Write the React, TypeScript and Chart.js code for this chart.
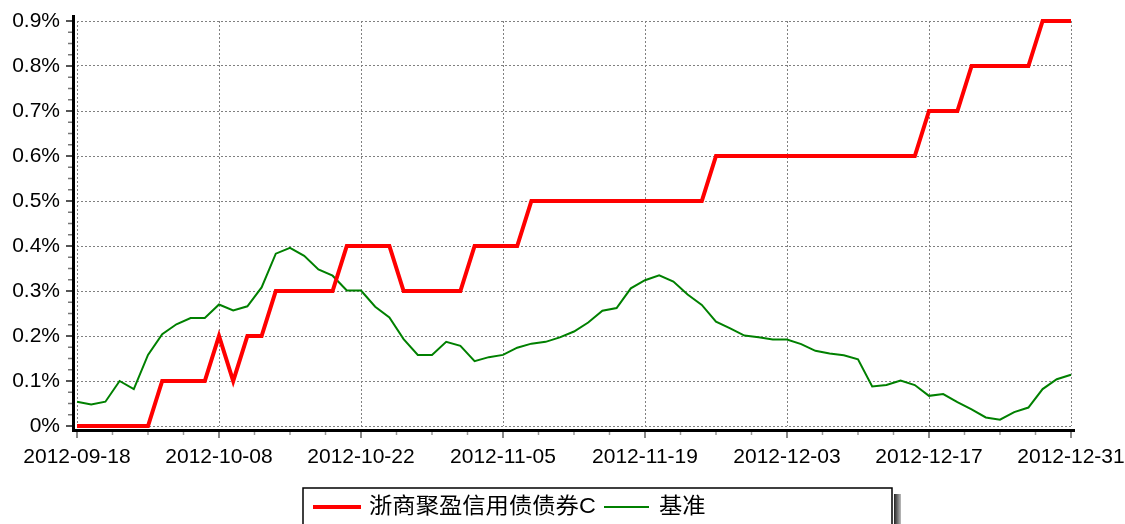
import React, { useEffect, useRef } from "react";
import { Chart, registerables } from "chart.js";

Chart.register(...registerables);

const dates: string[] = [
  "2012-09-18", "2012-09-19", "2012-09-20", "2012-09-21", "2012-09-24", "2012-09-25", "2012-09-26", "2012-09-27", "2012-09-28", "2012-09-29",
  "2012-10-08", "2012-10-09", "2012-10-10", "2012-10-11", "2012-10-12", "2012-10-15", "2012-10-16", "2012-10-17", "2012-10-18", "2012-10-19",
  "2012-10-22", "2012-10-23", "2012-10-24", "2012-10-25", "2012-10-26", "2012-10-29", "2012-10-30", "2012-10-31", "2012-11-01", "2012-11-02",
  "2012-11-05", "2012-11-06", "2012-11-07", "2012-11-08", "2012-11-09", "2012-11-12", "2012-11-13", "2012-11-14", "2012-11-15", "2012-11-16",
  "2012-11-19", "2012-11-20", "2012-11-21", "2012-11-22", "2012-11-23", "2012-11-26", "2012-11-27", "2012-11-28", "2012-11-29", "2012-11-30",
  "2012-12-03", "2012-12-04", "2012-12-05", "2012-12-06", "2012-12-07", "2012-12-10", "2012-12-11", "2012-12-12", "2012-12-13", "2012-12-14",
  "2012-12-17", "2012-12-18", "2012-12-19", "2012-12-20", "2012-12-21", "2012-12-24", "2012-12-25", "2012-12-26", "2012-12-27", "2012-12-28",
  "2012-12-31",
];

// values in percent
const fundValues: number[] = [
  0, 0, 0, 0, 0, 0, 0.1, 0.1, 0.1, 0.1,
  0.2, 0.1, 0.2, 0.2, 0.3, 0.3, 0.3, 0.3, 0.3, 0.4,
  0.4, 0.4, 0.4, 0.3, 0.3, 0.3, 0.3, 0.3, 0.4, 0.4,
  0.4, 0.4, 0.5, 0.5, 0.5, 0.5, 0.5, 0.5, 0.5, 0.5,
  0.5, 0.5, 0.5, 0.5, 0.5, 0.6, 0.6, 0.6, 0.6, 0.6,
  0.6, 0.6, 0.6, 0.6, 0.6, 0.6, 0.6, 0.6, 0.6, 0.6,
  0.7, 0.7, 0.7, 0.8, 0.8, 0.8, 0.8, 0.8, 0.9, 0.9,
  0.9,
];

const benchmarkValues: number[] = [
  0.054, 0.048, 0.054, 0.100, 0.082, 0.158, 0.204, 0.226, 0.240, 0.240,
  0.270, 0.257, 0.266, 0.308, 0.383, 0.396, 0.378, 0.348, 0.334, 0.301,
  0.301, 0.265, 0.241, 0.193, 0.158, 0.158, 0.187, 0.178, 0.144, 0.153,
  0.158, 0.174, 0.183, 0.187, 0.197, 0.210, 0.230, 0.256, 0.262, 0.306,
  0.324, 0.335, 0.321, 0.292, 0.269, 0.232, 0.217, 0.201, 0.197, 0.192,
  0.192, 0.182, 0.167, 0.161, 0.157, 0.148, 0.088, 0.091, 0.101, 0.091,
  0.067, 0.071, 0.053, 0.037, 0.019, 0.014, 0.031, 0.041, 0.082, 0.104,
  0.114,
];

const seriesNames: string[] = ["浙商聚盈信用债债券C", "基准"];
const seriesColors: string[] = ["#ff0000", "#008000"];

const yMax = 0.9;
const yStep = 0.1;
const xLabelEvery = 10;

const FONT = '"Liberation Sans", Arial, "Noto Sans CJK SC", sans-serif';

const axesPlugin = {
  id: "customAxes",
  beforeDatasetsDraw(chart: any) {
    const ctx = chart.ctx;
    const xs = chart.scales.x;
    const ys = chart.scales.y;
    const area = chart.chartArea;
    ctx.save();
    // y ticks
    const nMinor = Math.round(yMax / (yStep / 4));
    for (let k = 0; k <= nMinor; k++) {
      const v = (k * yStep) / 4;
      const py = ys.getPixelForValue(v);
      const major = k % 4 === 0;
      ctx.strokeStyle = major ? "#555" : "#777";
      ctx.lineWidth = major ? 2 : 1.5;
      ctx.beginPath();
      ctx.moveTo(major ? area.left - 11 : area.left - 9, py);
      ctx.lineTo(area.left - 4, py);
      ctx.stroke();
    }
    // x ticks
    const last = dates.length - 1;
    for (let k = 0; k * (xLabelEvery / 4) <= last + 0.001; k++) {
      const v = (k * xLabelEvery) / 4;
      const px = xs.getPixelForValue(v);
      const major = k % 4 === 0;
      ctx.strokeStyle = major ? "#888" : "#999";
      ctx.lineWidth = major ? 2 : 1.5;
      ctx.beginPath();
      ctx.moveTo(px, area.bottom + 4);
      ctx.lineTo(px, area.bottom + (major ? 12 : 9));
      ctx.stroke();
    }
    // axis lines
    ctx.strokeStyle = "#000";
    ctx.lineWidth = 3;
    ctx.beginPath();
    ctx.moveTo(area.left - 3.5, area.top - 6);
    ctx.lineTo(area.left - 3.5, area.bottom + 4.5);
    ctx.lineTo(area.right + 4, area.bottom + 4.5);
    ctx.stroke();
    ctx.restore();
  },
  afterDraw(chart: any) {
    const ctx = chart.ctx;
    ctx.save();
    const bx = 303, by = 488, bw = 589, bh = 40;
    // shadow
    const grad = ctx.createLinearGradient(bx + bw + 2, 0, bx + bw + 9, 0);
    grad.addColorStop(0, "#222");
    grad.addColorStop(1, "#bbb");
    ctx.fillStyle = grad;
    ctx.fillRect(bx + bw + 2, by + 6, 7, bh);
    ctx.fillStyle = "#fff";
    ctx.fillRect(bx, by, bw, bh);
    ctx.strokeStyle = "#000";
    ctx.lineWidth = 1.5;
    ctx.strokeRect(bx, by, bw, bh);
    const cy = 507;
    ctx.font = '22px ' + FONT;
    ctx.textBaseline = "middle";
    ctx.textAlign = "left";
    // item 1
    ctx.strokeStyle = seriesColors[0];
    ctx.lineWidth = 4;
    ctx.beginPath();
    ctx.moveTo(313, cy);
    ctx.lineTo(361, cy);
    ctx.stroke();
    ctx.fillStyle = "#000";
    ctx.save();
    ctx.translate(369, cy);
    ctx.scale(1.06, 1);
    ctx.fillText(seriesNames[0], 0, 0);
    ctx.restore();
    // item 2
    const x2 = 604;
    ctx.strokeStyle = seriesColors[1];
    ctx.lineWidth = 2;
    ctx.beginPath();
    ctx.moveTo(x2, cy);
    ctx.lineTo(x2 + 45, cy);
    ctx.stroke();
    ctx.save();
    ctx.translate(x2 + 55, cy);
    ctx.scale(1.06, 1);
    ctx.fillText(seriesNames[1], 0, 0);
    ctx.restore();
    ctx.restore();
  },
};

export default function App() {
  const ref = useRef<HTMLCanvasElement>(null);
  useEffect(() => {
    if (!ref.current) return;
    const chart = new Chart(ref.current, {
      type: "line",
      data: {
        labels: dates,
        datasets: [
          {
            label: seriesNames[0],
            data: fundValues,
            borderColor: seriesColors[0],
            backgroundColor: seriesColors[0],
            borderWidth: 4,
            pointRadius: 0,
            tension: 0,
            clip: false as any,
            order: 1,
          },
          {
            label: seriesNames[1],
            data: benchmarkValues,
            borderColor: seriesColors[1],
            backgroundColor: seriesColors[1],
            borderWidth: 2,
            pointRadius: 0,
            tension: 0,
            clip: false as any,
            order: 2,
          },
        ],
      },
      options: {
        animation: false,
        responsive: false,
        maintainAspectRatio: false,
        layout: { padding: { left: 0, top: 21, right: 54, bottom: 0 } },
        plugins: {
          legend: { display: false },
          tooltip: { enabled: false },
          title: { display: false },
        },
        scales: {
          x: {
            type: "category",
            offset: false,
            border: { display: false, dash: [2, 2] },
            grid: {
              color: "#808080",
              lineWidth: 1,
              drawTicks: false,
            },
            ticks: {
              autoSkip: false,
              maxRotation: 0,
              minRotation: 0,
              padding: 19,
              color: "#000",
              font: { family: FONT, size: 21 },
              callback: (val: any, idx: number) =>
                idx % xLabelEvery === 0 ? dates[idx] : null,
            },
            afterFit: (s: any) => {
              s.height = 98;
              s.paddingLeft = 0;
              s.paddingRight = 0;
            },
          },
          y: {
            min: 0,
            max: yMax,
            border: { display: false, dash: [2, 2] },
            grid: {
              color: "#808080",
              lineWidth: 1,
              drawTicks: false,
            },
            ticks: {
              stepSize: yStep,
              padding: 17,
              color: "#000",
              font: { family: FONT, size: 21 },
              callback: (v: any) => {
                const n = Number(v);
                return n === 0 ? "0%" : n.toFixed(1) + "%";
              },
            },
            afterFit: (s: any) => {
              s.width = 77;
              s.paddingTop = 0;
              s.paddingBottom = 0;
            },
          },
        },
      },
      plugins: [axesPlugin],
    });
    return () => chart.destroy();
  }, []);
  return (
    <div style={{ position: "absolute", left: 0, top: 0, width: 1125, height: 524, background: "#fff" }}>
      <canvas ref={ref} width={1125} height={524} style={{ display: "block", width: 1125, height: 524 }} />
    </div>
  );
}
